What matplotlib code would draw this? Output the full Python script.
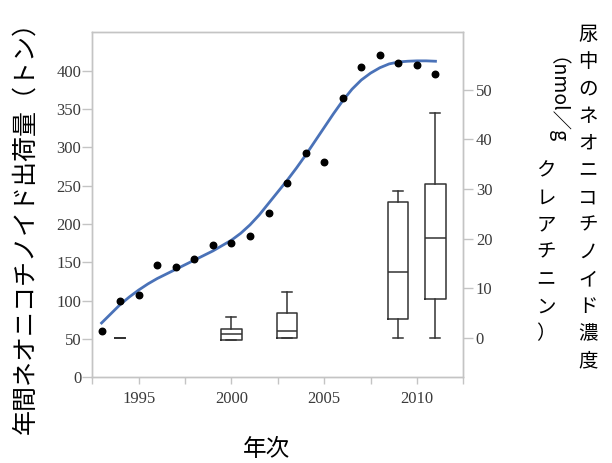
import matplotlib
matplotlib.use("Agg")
import matplotlib.pyplot as plt

# yearly shipments (tons), left axis
years = [1993, 1994, 1995, 1996, 1997, 1998, 1999, 2000, 2001, 2002,
         2003, 2004, 2005, 2006, 2007, 2008, 2009, 2010, 2011]
shipments = [61, 100, 108, 146, 144, 154, 173, 175, 185, 214,
             254, 293, 281, 365, 405, 421, 410, 408, 396]

# fitted curve
curve_x = [1993, 1993.5, 1994, 1994.5, 1995, 1995.5, 1996, 1996.5, 1997, 1997.5,
           1998, 1998.5, 1999, 1999.5, 2000, 2000.5, 2001, 2001.5, 2002, 2002.5,
           2003, 2003.5, 2004, 2004.5, 2005, 2005.5, 2006, 2006.5, 2007, 2007.5,
           2008, 2008.5, 2009, 2009.5, 2010, 2010.5, 2011]
curve_y = [71, 83, 95, 105, 114, 122, 129, 135, 141, 147,
           153, 159, 165, 172, 179, 188, 199, 212, 227, 242,
           257, 273, 290, 308, 326, 344, 361, 376, 388, 397,
           404, 409, 411.5, 412.5, 413, 413, 412.5]

# urine concentration boxes (nmol/g creatinine), right axis
box_years = [1994, 2000, 2003, 2009, 2011]
box_lo = [0, -0.3, 0, 0, 0]
box_q1 = [0, -0.3, 0, 3.9, 7.9]
box_med = [0, 0.9, 1.4, 13.3, 20.1]
box_q3 = [0, 1.9, 5.1, 27.4, 31.0]
box_hi = [0, 4.3, 9.3, 29.6, 45.4]

W, H = 612, 463
fig = plt.figure(figsize=(W / 100, H / 100), dpi=100)
ax = fig.add_axes([92.3 / W, 1 - 377.4 / H, (463.3 - 92.3) / W, (377.4 - 32.5) / H])
ax2 = ax.twinx()

spine_c = "#c4c4c4"
lab_c = "#3a3a3a"
serif = "Liberation Serif"

ax.plot(curve_x, curve_y, color="#4a72b8", lw=2.0, zorder=3)
ax.scatter(years, shipments, s=22, color="black", zorder=4)

stats = []
for i in range(len(box_years)):
    stats.append(dict(whislo=box_lo[i], q1=box_q1[i], med=box_med[i],
                      q3=box_q3[i], whishi=box_hi[i]))
widths = [0.57, 1.09, 1.09, 1.09, 1.09]
lp = dict(color="#333333", linewidth=1.1)
ax2.bxp(stats, positions=box_years, widths=widths, capwidths=[0.54] * 5,
        showfliers=False, boxprops=lp, whiskerprops=lp, capprops=lp,
        medianprops=lp, manage_ticks=False)

ax.set_xlim(1992.5, 2012.5)
ax.set_ylim(0, 450)
ax2.set_ylim(-7.9, 61.5)

ax.set_xticks([1995, 2000, 2005, 2010])
ax.set_xticks([1992.5, 1997.5, 2002.5, 2007.5, 2012.5], minor=True)
ax.set_yticks(range(0, 401, 50))
ax2.set_yticks(range(0, 51, 10))

for a in (ax, ax2):
    for s in a.spines.values():
        s.set_color(spine_c)
        s.set_linewidth(1.0)
ax.tick_params(axis="x", which="both", length=5, width=1, color=spine_c,
               labelcolor=lab_c, labelsize=12, pad=5)
ax.tick_params(axis="y", length=7, width=1, color=spine_c, labelcolor=lab_c,
               labelsize=12, pad=1)
ax2.tick_params(axis="y", length=7, width=1, color=spine_c, labelcolor=lab_c,
                labelsize=12, pad=2)
for t in ax.get_xticklabels() + ax.get_yticklabels() + ax2.get_yticklabels():
    t.set_fontfamily(serif)

jp = ["Noto Sans CJK JP", "DejaVu Sans"]


def px(x, y):
    return x / W, 1 - y / H


fig.text(*px(25, 221), "年間ネオニコチノイド出荷量（トン）", rotation=90,
         ha="center", va="center", fontsize=18, family=jp, color="black")
fig.text(*px(267, 450), "年次", ha="center", va="center", fontsize=17,
         family=jp, color="black")

col1 = "尿中のネオニコチノイド濃度"
fig.text(*px(588, 24), "\n".join(col1), ha="center", va="top",
         multialignment="center", fontsize=14, family=jp, linespacing=1.39,
         color="black")
fig.text(*px(546, 57), "（nmol／g", rotation=270, ha="center", va="top",
         fontsize=14, family=jp, color="black")
fig.text(*px(546, 160), "\n".join("クレアチニン）"), ha="center", va="top",
         multialignment="center", fontsize=14, family=jp, linespacing=1.39,
         color="black")

fig.savefig("out.png", dpi=100)
